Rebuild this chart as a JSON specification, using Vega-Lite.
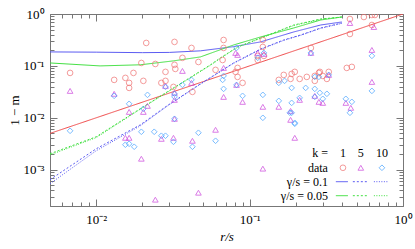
{
 "$schema": "https://vega.github.io/schema/vega-lite/v6.json",
 "width": 353, "height": 192,
 "autosize": {"type": "none"},
 "padding": {"left": 50, "top": 14, "right": 12, "bottom": 43},
 "config": {
  "font": "Liberation Serif",
  "view": {"stroke": "#777", "strokeWidth": 1},
  "axis": {"grid": false, "domain": false, "tickColor": "#777", "labelFontSize": 13, "titleFontSize": 13, "labelColor": "#000", "titleColor": "#000", "titleFontWeight": "normal", "labelFlush": false, "labelOverlap": false}
 },
 "datasets": {
  "pts": [
   {"k":"1","x":0.00676,"y":0.0733},{"k":"1","x":0.0131,"y":0.0538},{"k":"1","x":0.0155,"y":0.0588},{"k":"1","x":0.0164,"y":0.0471},{"k":"1","x":0.0164,"y":0.0377},{"k":"1","x":0.0175,"y":0.0733},{"k":"1","x":0.0203,"y":0.0515},{"k":"1","x":0.0197,"y":0.114},{"k":"1","x":0.0212,"y":0.277},{"k":"1","x":0.0243,"y":0.109},{"k":"1","x":0.0283,"y":0.0767},{"k":"1","x":0.0266,"y":0.0471},{"k":"1","x":0.0283,"y":0.0515},{"k":"1","x":0.0324,"y":0.29},{"k":"1","x":0.0324,"y":0.105},{"k":"1","x":0.0328,"y":0.0875},{"k":"1","x":0.0319,"y":0.0394},{"k":"1","x":0.0365,"y":0.143},{"k":"1","x":0.0418,"y":0.222},{"k":"1","x":0.0464,"y":0.119},{"k":"1","x":0.0424,"y":0.0316},{"k":"1","x":0.0677,"y":0.316},{"k":"1","x":0.0677,"y":0.222},{"k":"1","x":0.0667,"y":0.13},{"k":"1","x":0.06,"y":0.0838},{"k":"1","x":0.081,"y":0.0767},{"k":"1","x":0.0835,"y":0.0915},{"k":"1","x":0.0835,"y":0.0614},{"k":"1","x":0.09,"y":0.0471},{"k":"1","x":0.122,"y":0.316},{"k":"1","x":0.122,"y":0.232},{"k":"1","x":0.113,"y":0.156},{"k":"1","x":0.124,"y":0.156},{"k":"1","x":0.113,"y":0.13},{"k":"1","x":0.155,"y":0.0538},{"k":"1","x":0.167,"y":0.0671},{"k":"1","x":0.188,"y":0.0702},{"k":"1","x":0.197,"y":0.0767},{"k":"1","x":0.185,"y":0.0562},{"k":"1","x":0.212,"y":0.0562},{"k":"1","x":0.236,"y":0.0614},{"k":"1","x":0.251,"y":0.222},{"k":"1","x":0.266,"y":0.0642},{"k":"1","x":0.266,"y":0.0515},{"k":"1","x":0.283,"y":0.0733},{"k":"1","x":0.287,"y":0.0767},{"k":"1","x":0.3,"y":0.0642},{"k":"1","x":0.319,"y":0.0562},{"k":"1","x":0.328,"y":0.0767},{"k":"1","x":0.43,"y":0.0915},{"k":"1","x":0.464,"y":0.0957},{"k":"1","x":0.451,"y":0.801},{"k":"1","x":0.451,"y":0.412},{"k":"1","x":0.556,"y":0.875},{"k":"1","x":0.627,"y":0.957},{"k":"1","x":0.656,"y":0.957},{"k":"1","x":0.627,"y":0.614},
   {"k":"5","x":0.00676,"y":0.033},{"k":"5","x":0.0131,"y":0.029},{"k":"5","x":0.0164,"y":0.013},{"k":"5","x":0.0203,"y":0.013},{"k":"5","x":0.0216,"y":0.017},{"k":"5","x":0.0283,"y":0.0412},{"k":"5","x":0.0324,"y":0.0222},{"k":"5","x":0.0324,"y":0.0303},{"k":"5","x":0.0324,"y":0.00957},{"k":"5","x":0.0365,"y":0.0801},{"k":"5","x":0.0418,"y":0.0471},{"k":"5","x":0.0155,"y":0.00412},{"k":"5","x":0.0164,"y":0.00412},{"k":"5","x":0.0197,"y":0.00163},{"k":"5","x":0.0243,"y":0.000265},{"k":"5","x":0.0266,"y":0.00394},{"k":"5","x":0.0319,"y":0.00412},{"k":"5","x":0.0424,"y":0.00361},{"k":"5","x":0.0464,"y":0.000361},{"k":"5","x":0.06,"y":0.00588},{"k":"5","x":0.122,"y":0.0163},{"k":"5","x":0.122,"y":0.00105},{"k":"5","x":0.155,"y":0.0163},{"k":"5","x":0.185,"y":0.00915},{"k":"5","x":0.197,"y":0.00412},{"k":"5","x":0.0677,"y":0.0915},{"k":"5","x":0.081,"y":0.178},{"k":"5","x":0.0835,"y":0.163},{"k":"5","x":0.113,"y":0.178},{"k":"5","x":0.124,"y":0.17},{"k":"5","x":0.0822,"y":0.0431},{"k":"5","x":0.0677,"y":0.0253},{"k":"5","x":0.09,"y":0.0203},{"k":"5","x":0.185,"y":0.0136},{"k":"5","x":0.212,"y":0.0222},{"k":"5","x":0.251,"y":0.178},{"k":"5","x":0.266,"y":0.0265},{"k":"5","x":0.283,"y":0.0203},{"k":"5","x":0.3,"y":0.0194},{"k":"5","x":0.328,"y":0.0671},{"k":"5","x":0.424,"y":0.0194},{"k":"5","x":0.457,"y":0.0156},{"k":"5","x":0.451,"y":0.671},{"k":"5","x":0.646,"y":0.562},{"k":"5","x":0.627,"y":0.203},{"k":"5","x":0.627,"y":0.0492},
   {"k":"10","x":0.0131,"y":0.0265},{"k":"10","x":0.0164,"y":0.0186},{"k":"10","x":0.0216,"y":0.0277},{"k":"10","x":0.0283,"y":0.0394},{"k":"10","x":0.0324,"y":0.029},{"k":"10","x":0.0324,"y":0.0253},{"k":"10","x":0.0365,"y":0.0431},{"k":"10","x":0.0418,"y":0.0538},{"k":"10","x":0.0203,"y":0.0149},{"k":"10","x":0.0324,"y":0.00957},{"k":"10","x":0.00676,"y":0.00562},{"k":"10","x":0.0155,"y":0.00303},{"k":"10","x":0.0164,"y":0.00316},{"k":"10","x":0.0177,"y":0.00277},{"k":"10","x":0.0197,"y":0.00538},{"k":"10","x":0.0239,"y":0.00538},{"k":"10","x":0.0266,"y":0.00451},{"k":"10","x":0.0283,"y":0.00451},{"k":"10","x":0.0319,"y":0.00345},{"k":"10","x":0.0424,"y":0.00277},{"k":"10","x":0.0464,"y":0.00515},{"k":"10","x":0.06,"y":0.00361},{"k":"10","x":0.122,"y":0.01},{"k":"10","x":0.183,"y":0.0125},{"k":"10","x":0.197,"y":0.00767},{"k":"10","x":0.0822,"y":0.222},{"k":"10","x":0.0667,"y":0.0538},{"k":"10","x":0.0677,"y":0.0361},{"k":"10","x":0.0677,"y":0.0642},{"k":"10","x":0.0822,"y":0.0431},{"k":"10","x":0.09,"y":0.0265},{"k":"10","x":0.122,"y":0.0277},{"k":"10","x":0.113,"y":0.143},{"k":"10","x":0.124,"y":0.178},{"k":"10","x":0.155,"y":0.0212},{"k":"10","x":0.155,"y":0.0471},{"k":"10","x":0.169,"y":0.0515},{"k":"10","x":0.188,"y":0.0377},{"k":"10","x":0.188,"y":0.0194},{"k":"10","x":0.188,"y":0.0125},{"k":"10","x":0.197,"y":0.00801},{"k":"10","x":0.212,"y":0.0242},{"k":"10","x":0.232,"y":0.0377},{"k":"10","x":0.251,"y":0.178},{"k":"10","x":0.266,"y":0.0614},{"k":"10","x":0.266,"y":0.0361},{"k":"10","x":0.283,"y":0.0614},{"k":"10","x":0.287,"y":0.0303},{"k":"10","x":0.266,"y":0.0253},{"k":"10","x":0.3,"y":0.0232},{"k":"10","x":0.319,"y":0.029},{"k":"10","x":0.328,"y":0.0671},{"k":"10","x":0.424,"y":0.0232},{"k":"10","x":0.464,"y":0.0203},{"k":"10","x":0.451,"y":0.0125},{"k":"10","x":0.627,"y":0.156},{"k":"10","x":0.627,"y":0.033}
  ],
  "curves": [
   {"c":"fit","fam":"fit","k":"1","x":0.005,"y":0.005},{"c":"fit","fam":"fit","k":"1","x":1,"y":1},
   {"c":"b1","fam":"0.1","k":"1","x":0.005,"y":0.186},{"c":"b1","fam":"0.1","k":"1","x":0.01,"y":0.184},{"c":"b1","fam":"0.1","k":"1","x":0.02,"y":0.18},{"c":"b1","fam":"0.1","k":"1","x":0.03,"y":0.182},{"c":"b1","fam":"0.1","k":"1","x":0.0478,"y":0.195},{"c":"b1","fam":"0.1","k":"1","x":0.0786,"y":0.235},{"c":"b1","fam":"0.1","k":"1","x":0.118,"y":0.29},{"c":"b1","fam":"0.1","k":"1","x":0.194,"y":0.451},{"c":"b1","fam":"0.1","k":"1","x":0.291,"y":0.614},{"c":"b1","fam":"0.1","k":"1","x":0.399,"y":0.702},
   {"c":"b5","fam":"0.1","k":"5","x":0.005,"y":0.000643},{"c":"b5","fam":"0.1","k":"5","x":0.01,"y":0.00253},{"c":"b5","fam":"0.1","k":"5","x":0.0194,"y":0.00733},{"c":"b5","fam":"0.1","k":"5","x":0.0296,"y":0.0178},{"c":"b5","fam":"0.1","k":"5","x":0.0478,"y":0.0451},{"c":"b5","fam":"0.1","k":"5","x":0.0786,"y":0.114},{"c":"b5","fam":"0.1","k":"5","x":0.118,"y":0.212},{"c":"b5","fam":"0.1","k":"5","x":0.167,"y":0.316},{"c":"b5","fam":"0.1","k":"5","x":0.216,"y":0.395},{"c":"b5","fam":"0.1","k":"5","x":0.291,"y":0.538},{"c":"b5","fam":"0.1","k":"5","x":0.399,"y":0.671},
   {"c":"b10","fam":"0.1","k":"10","x":0.005,"y":0.000538},{"c":"b10","fam":"0.1","k":"10","x":0.01,"y":0.00232},{"c":"b10","fam":"0.1","k":"10","x":0.0194,"y":0.00702},{"c":"b10","fam":"0.1","k":"10","x":0.0296,"y":0.0175},{"c":"b10","fam":"0.1","k":"10","x":0.0478,"y":0.0445},{"c":"b10","fam":"0.1","k":"10","x":0.0786,"y":0.112},{"c":"b10","fam":"0.1","k":"10","x":0.118,"y":0.208},{"c":"b10","fam":"0.1","k":"10","x":0.167,"y":0.31},{"c":"b10","fam":"0.1","k":"10","x":0.216,"y":0.39},{"c":"b10","fam":"0.1","k":"10","x":0.291,"y":0.53},{"c":"b10","fam":"0.1","k":"10","x":0.399,"y":0.66},
   {"c":"g1","fam":"0.05","k":"1","x":0.005,"y":0.114},{"c":"g1","fam":"0.05","k":"1","x":0.0106,"y":0.1},{"c":"g1","fam":"0.05","k":"1","x":0.0194,"y":0.105},{"c":"g1","fam":"0.05","k":"1","x":0.0319,"y":0.125},{"c":"g1","fam":"0.05","k":"1","x":0.0478,"y":0.149},{"c":"g1","fam":"0.05","k":"1","x":0.0786,"y":0.253},{"c":"g1","fam":"0.05","k":"1","x":0.118,"y":0.361},{"c":"g1","fam":"0.05","k":"1","x":0.194,"y":0.538},{"c":"g1","fam":"0.05","k":"1","x":0.291,"y":0.767},{"c":"g1","fam":"0.05","k":"1","x":0.399,"y":0.875},
   {"c":"g5","fam":"0.05","k":"5","x":0.005,"y":0.00203},{"c":"g5","fam":"0.05","k":"5","x":0.01,"y":0.00431},{"c":"g5","fam":"0.05","k":"5","x":0.0203,"y":0.0163},{"c":"g5","fam":"0.05","k":"5","x":0.0556,"y":0.105},{"c":"g5","fam":"0.05","k":"5","x":0.0646,"y":0.143},{"c":"g5","fam":"0.05","k":"5","x":0.0835,"y":0.232},{"c":"g5","fam":"0.05","k":"5","x":0.118,"y":0.345},{"c":"g5","fam":"0.05","k":"5","x":0.194,"y":0.614},{"c":"g5","fam":"0.05","k":"5","x":0.291,"y":0.801},{"c":"g5","fam":"0.05","k":"5","x":0.399,"y":0.875},
   {"c":"g10","fam":"0.05","k":"10","x":0.005,"y":0.00193},{"c":"g10","fam":"0.05","k":"10","x":0.01,"y":0.00415},{"c":"g10","fam":"0.05","k":"10","x":0.0203,"y":0.016},{"c":"g10","fam":"0.05","k":"10","x":0.0556,"y":0.103},{"c":"g10","fam":"0.05","k":"10","x":0.0646,"y":0.14},{"c":"g10","fam":"0.05","k":"10","x":0.0835,"y":0.228},{"c":"g10","fam":"0.05","k":"10","x":0.118,"y":0.34},{"c":"g10","fam":"0.05","k":"10","x":0.194,"y":0.6},{"c":"g10","fam":"0.05","k":"10","x":0.291,"y":0.79},{"c":"g10","fam":"0.05","k":"10","x":0.399,"y":0.87}
  ],
  "legl": [
   {"c":"l1","fam":"0.1","k":"1","x":0.365,"y":0.000588},{"c":"l1","fam":"0.1","k":"1","x":0.437,"y":0.000588},
   {"c":"l2","fam":"0.1","k":"5","x":0.471,"y":0.000588},{"c":"l2","fam":"0.1","k":"5","x":0.59,"y":0.000588},
   {"c":"l3","fam":"0.1","k":"10","x":0.646,"y":0.000588},{"c":"l3","fam":"0.1","k":"10","x":0.798,"y":0.000588},
   {"c":"l4","fam":"0.05","k":"1","x":0.365,"y":0.000316},{"c":"l4","fam":"0.05","k":"1","x":0.437,"y":0.000316},
   {"c":"l5","fam":"0.05","k":"5","x":0.471,"y":0.000316},{"c":"l5","fam":"0.05","k":"5","x":0.59,"y":0.000316},
   {"c":"l6","fam":"0.05","k":"10","x":0.646,"y":0.000316},{"c":"l6","fam":"0.05","k":"10","x":0.798,"y":0.000316}
  ],
  "legs": [
   {"k":"1","x":0.406,"y":0.00109},{"k":"5","x":0.531,"y":0.00109},{"k":"10","x":0.729,"y":0.00109}
  ],
  "legt": [
   {"kind":"row","x":0.324,"y":0.00212,"t":"k ="},
   {"kind":"col","x":0.406,"y":0.00212,"t":"1"},
   {"kind":"col","x":0.531,"y":0.00212,"t":"5"},
   {"kind":"col","x":0.729,"y":0.00212,"t":"10"},
   {"kind":"row","x":0.324,"y":0.00109,"t":"data"},
   {"kind":"row","x":0.324,"y":0.000588,"t":"γ/s = 0.1"},
   {"kind":"row","x":0.324,"y":0.000316,"t":"γ/s = 0.05"}
  ]
 },
 "layer": [
  {
   "data": {"name": "curves"},
   "mark": {"type": "line", "strokeWidth": 1, "clip": true},
   "encoding": {
    "x": {"field": "x", "type": "quantitative", "scale": {"type": "log", "domain": [0.005, 1], "nice": false},
      "axis": {"orient": "top", "labels": false, "title": null, "tickCount": 30,
        "tickSize": {"condition": {"test": "abs(log(datum.value)/LN10 - round(log(datum.value)/LN10)) < 0.001", "value": -7}, "value": -4}}},
    "y": {"field": "y", "type": "quantitative", "scale": {"type": "log", "domain": [0.0002, 1], "nice": false},
      "axis": {"orient": "right", "labels": false, "title": null, "tickCount": 30,
        "tickSize": {"condition": {"test": "abs(log(datum.value)/LN10 - round(log(datum.value)/LN10)) < 0.001", "value": -7}, "value": -4}}},
    "color": {"field": "fam", "type": "nominal", "scale": {"domain": ["fit", "0.1", "0.05"], "range": ["#f04848", "#5a5af2", "#40e040"]}, "legend": null},
    "strokeDash": {"field": "k", "type": "nominal", "scale": {"domain": ["1", "5", "10"], "range": [[1, 0], [2, 2], [1, 1.5]]}, "legend": null},
    "detail": {"field": "c"}
   }
  },
  {
   "data": {"name": "pts"},
   "mark": {"type": "point", "filled": false, "strokeWidth": 1, "size": 32, "clip": true},
   "encoding": {
    "x": {"field": "x", "type": "quantitative",
      "axis": {"title": "r/s", "titleFontStyle": "italic", "tickCount": 30, "labelPadding": 14, "titlePadding": 1,
        "labelExpr": "abs(log(datum.value)/LN10 - round(log(datum.value)/LN10)) < 0.001 ? (round(log(datum.value)/LN10) == 0 ? '10⁰' : round(log(datum.value)/LN10) == -1 ? '10⁻¹' : round(log(datum.value)/LN10) == -2 ? '10⁻²' : round(log(datum.value)/LN10) == -3 ? '10⁻³' : '') : ''",
        "tickSize": {"condition": {"test": "abs(log(datum.value)/LN10 - round(log(datum.value)/LN10)) < 0.001", "value": -7}, "value": -4}}},
    "y": {"field": "y", "type": "quantitative",
      "axis": {"title": "1 − m", "tickCount": 30, "labelPadding": 13, "titlePadding": 2,
        "labelExpr": "abs(log(datum.value)/LN10 - round(log(datum.value)/LN10)) < 0.001 ? (round(log(datum.value)/LN10) == 0 ? '10⁰' : round(log(datum.value)/LN10) == -1 ? '10⁻¹' : round(log(datum.value)/LN10) == -2 ? '10⁻²' : round(log(datum.value)/LN10) == -3 ? '10⁻³' : '') : ''",
        "tickSize": {"condition": {"test": "abs(log(datum.value)/LN10 - round(log(datum.value)/LN10)) < 0.001", "value": -7}, "value": -4}}},
    "shape": {"field": "k", "type": "nominal", "scale": {"domain": ["1", "5", "10"], "range": ["circle", "triangle-up", "diamond"]}, "legend": null},
    "stroke": {"field": "k", "type": "nominal", "scale": {"domain": ["1", "5", "10"], "range": ["#f07070", "#cc44dd", "#40a0ff"]}, "legend": null}
   }
  },
  {
   "data": {"name": "legl"},
   "mark": {"type": "line", "strokeWidth": 1},
   "encoding": {
    "x": {"field": "x", "type": "quantitative", "axis": null},
    "y": {"field": "y", "type": "quantitative", "axis": null},
    "color": {"field": "fam", "type": "nominal", "legend": null},
    "strokeDash": {"field": "k", "type": "nominal", "legend": null},
    "detail": {"field": "c"}
   }
  },
  {
   "data": {"name": "legs"},
   "mark": {"type": "point", "filled": false, "strokeWidth": 1, "size": 32},
   "encoding": {
    "x": {"field": "x", "type": "quantitative", "axis": null},
    "y": {"field": "y", "type": "quantitative", "axis": null},
    "shape": {"field": "k", "type": "nominal", "legend": null},
    "stroke": {"field": "k", "type": "nominal", "legend": null}
   }
  },
  {
   "data": {"name": "legt"},
   "transform": [{"filter": "datum.kind == 'row'"}],
   "mark": {"type": "text", "align": "right", "baseline": "middle", "fontSize": 12, "color": "#000"},
   "encoding": {
    "x": {"field": "x", "type": "quantitative", "axis": null},
    "y": {"field": "y", "type": "quantitative", "axis": null},
    "text": {"field": "t"}
   }
  },
  {
   "data": {"name": "legt"},
   "transform": [{"filter": "datum.kind == 'col'"}],
   "mark": {"type": "text", "align": "center", "baseline": "middle", "fontSize": 12, "color": "#000"},
   "encoding": {
    "x": {"field": "x", "type": "quantitative", "axis": null},
    "y": {"field": "y", "type": "quantitative", "axis": null},
    "text": {"field": "t"}
   }
  }
 ],
 "resolve": {"axis": {"x": "independent", "y": "independent"}}
}
